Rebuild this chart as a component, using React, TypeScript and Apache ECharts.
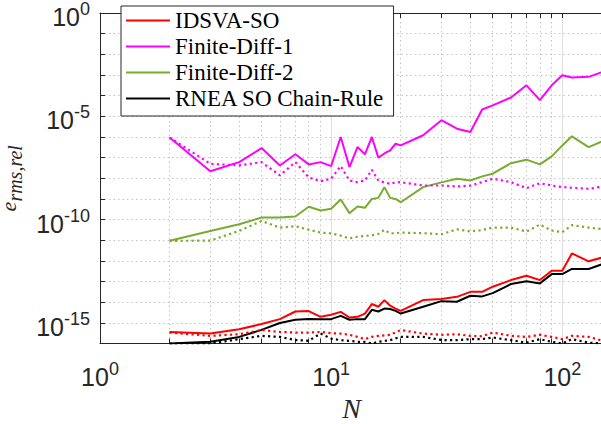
import { useEffect, useRef } from 'react';
import * as echarts from 'echarts';

// Number of bodies N (x values)
const N = [2, 3, 4, 5, 6, 7, 8, 9, 10, 11, 12, 13, 14, 15, 16, 17, 18, 19, 20, 25, 30, 35, 40, 45, 50, 60, 70, 80, 90, 100, 110, 130, 150];

// log10 of e_rms,rel — solid lines
const idsvaSoLog10 = [-15.44, -15.52, -15.31, -15.06, -14.82, -14.45, -14.43, -14.71, -14.61, -14.47, -14.74, -14.71, -14.55, -14.09, -14.22, -13.9, -14.17, -14.31, -14.42, -13.9, -13.85, -13.74, -13.5, -13.5, -13.25, -12.93, -12.72, -12.93, -12.48, -12.48, -11.64, -12.02, -11.83];
const finiteDiff1Log10 = [-6.03, -7.66, -7.22, -6.54, -7.38, -6.84, -7.33, -7.22, -7.41, -6.0, -7.46, -6.49, -6.84, -6.0, -7.0, -6.8, -6.65, -6.33, -6.41, -5.92, -5.19, -5.6, -5.76, -4.67, -4.47, -4.09, -3.5, -4.22, -3.5, -3.01, -3.12, -3.09, -2.85];
const finiteDiff2Log10 = [-11.03, -10.55, -10.23, -9.9, -9.9, -9.85, -9.38, -9.56, -9.48, -9.03, -9.69, -9.37, -9.43, -9.0, -8.95, -8.43, -8.95, -9.0, -9.16, -8.43, -8.2, -8.02, -8.11, -7.91, -7.78, -7.27, -7.1, -7.33, -6.94, -6.41, -5.97, -6.49, -6.2];
const rneaSoLog10 = [-16.0, -15.92, -15.68, -15.34, -15.01, -14.85, -14.81, -14.82, -14.82, -14.66, -14.85, -14.82, -14.82, -14.37, -14.45, -14.31, -14.33, -14.42, -14.55, -14.22, -13.95, -13.98, -13.69, -13.72, -13.56, -13.12, -12.99, -13.09, -12.64, -12.64, -12.39, -12.39, -12.15];

// log10 of e_rms,rel — dotted companion lines
const idsvaSoDotLog10 = [-15.47, -15.63, -15.55, -15.35, -15.44, -15.47, -15.47, -15.44, -15.5, -15.52, -15.58, -15.68, -15.79, -15.68, -15.63, -15.61, -15.58, -15.46, -15.35, -15.52, -15.58, -15.55, -15.63, -15.65, -15.47, -15.63, -15.68, -15.58, -15.68, -15.79, -15.63, -15.68, -15.87];
const finiteDiff1DotLog10 = [-6.03, -7.3, -7.38, -7.22, -7.86, -7.22, -7.96, -8.14, -8.02, -7.41, -8.11, -8.19, -8.11, -7.59, -8.11, -8.2, -8.27, -8.2, -8.19, -8.35, -8.35, -8.4, -8.36, -8.19, -8.02, -8.19, -8.48, -8.24, -8.35, -8.43, -8.46, -8.51, -8.4];
const finiteDiff2DotLog10 = [-11.03, -11.02, -10.55, -10.07, -10.39, -10.32, -10.49, -10.63, -10.67, -10.78, -10.91, -10.83, -10.79, -10.76, -10.7, -10.5, -10.67, -10.66, -10.63, -10.66, -10.71, -10.47, -10.58, -10.51, -10.39, -10.39, -10.58, -10.24, -10.53, -10.61, -10.27, -10.39, -10.46];
const rneaSoDotLog10 = [-16.0, -16.0, -15.79, -15.63, -15.68, -15.83, -15.87, -15.52, -15.76, -15.84, -15.87, -15.92, -15.92, -16.0, -15.92, -15.87, -15.84, -15.75, -15.68, -15.68, -15.83, -15.84, -15.79, -15.79, -15.71, -15.84, -15.96, -15.79, -15.92, -16.0, -15.79, -15.96, -16.0];

const seriesNames = ['IDSVA-SO', 'Finite-Diff-1', 'Finite-Diff-2', 'RNEA SO Chain-Rule'];
const seriesColors = ['#ff0000', '#ff00ff', '#77ac30', '#000000'];

// tick labels (exponents of 10)
const xLabelExponents = [0, 1, 2];
const yLabelExponents = [-15, -10, -5, 0];
const yMajorGridExponents = [-15, -10, -5];

const AXIS_COLOR = '#262626';

const toPairs = (ys: number[]) => N.map((n, i) => [n, Math.pow(10, ys[i])]);

const expLabel = (v: number, allowed: number[]) => {
  const l = Math.log10(v);
  const e = Math.round(l);
  if (Math.abs(l - e) > 1e-6 || !allowed.includes(e)) return '';
  return `{b|10}{s|${e}}`;
};

const labelRich = {
  b: { fontSize: 25, fontFamily: 'Liberation Sans', color: AXIS_COLOR, padding: [8, 0, 0, 0] },
  s: { fontSize: 18, fontFamily: 'Liberation Sans', color: AXIS_COLOR, padding: [0, 0, 8, 0] },
};

export default function App() {
  const ref = useRef<HTMLDivElement>(null);
  useEffect(() => {
    if (!ref.current) return;
    const chart = echarts.init(ref.current, undefined, { renderer: 'svg' });
    const solid = [idsvaSoLog10, finiteDiff1Log10, finiteDiff2Log10, rneaSoLog10];
    const dotted = [idsvaSoDotLog10, finiteDiff1DotLog10, finiteDiff2DotLog10, rneaSoDotLog10];
    const series: any[] = [];
    solid.forEach((d, i) => {
      const s: any = {
        name: seriesNames[i],
        type: 'line',
        data: toPairs(d),
        symbol: 'none',
        z: 3,
        lineStyle: { color: seriesColors[i], width: 2 },
        itemStyle: { color: seriesColors[i] },
        emphasis: { disabled: true },
      };
      if (i === 0) {
        s.markLine = {
          silent: true,
          symbol: 'none',
          z: 1,
          label: { show: false },
          emphasis: { disabled: true },
          lineStyle: { color: '#dedede', type: 'solid', width: 1 },
          data: yMajorGridExponents.map((e) => ({ yAxis: Math.pow(10, e) })),
        };
      }
      series.push(s);
    });
    dotted.forEach((d, i) => {
      series.push({
        name: seriesNames[i] + ' (dotted)',
        type: 'line',
        data: toPairs(d),
        symbol: 'none',
        z: 3,
        lineStyle: { color: seriesColors[i], width: 2.2, type: [2.2, 3.3] },
        itemStyle: { color: seriesColors[i] },
        emphasis: { disabled: true },
      });
    });

    const xCommon: any = {
      type: 'log',
      logBase: 10,
      min: 1,
      max: 150,
      interval: 1,
      axisLine: { show: true, lineStyle: { color: AXIS_COLOR, width: 1 } },
      axisTick: { show: true, inside: true, length: 5, lineStyle: { color: AXIS_COLOR } },
      minorTick: { show: true, splitNumber: 9, length: 5, lineStyle: { color: AXIS_COLOR } },
    };

    chart.setOption({
      animation: false,
      grid: { left: 100, top: 13, right: -2, bottom: 80.5, containLabel: false, outerBoundsMode: 'none' },
      legend: {
        data: seriesNames,
        orient: 'vertical',
        left: 121,
        top: 6,
        icon: 'rect',
        backgroundColor: '#ffffff',
        borderColor: AXIS_COLOR,
        borderWidth: 1,
        borderRadius: 0,
        padding: [3, 9, 6, 5],
        itemGap: 3,
        itemWidth: 44,
        itemHeight: 2,
        selectedMode: false,
        textStyle: { fontFamily: 'Liberation Serif', fontSize: 23, color: '#000', lineHeight: 23 },
        z: 10,
      },
      xAxis: [
        {
          ...xCommon,
          position: 'bottom',
          name: 'N',
          nameLocation: 'middle',
          nameGap: 49,
          nameTextStyle: { fontFamily: 'Liberation Serif', fontStyle: 'italic', fontSize: 28, color: AXIS_COLOR },
          axisLabel: {
            margin: 13,
            formatter: (v: number) => expLabel(v, xLabelExponents),
            rich: labelRich,
          },
          splitLine: { show: true, lineStyle: { color: '#dedede', width: 1, type: 'solid' } },
          minorSplitLine: { show: true, lineStyle: { color: '#c4c4c4', width: 1, type: [1.5, 3] } },
        },
        {
          ...xCommon,
          position: 'top',
          axisLabel: { show: false },
          splitLine: { show: false },
          minorSplitLine: { show: false },
        },
      ],
      yAxis: [
        {
          type: 'log',
          logBase: 10,
          min: 1e-16,
          max: 1,
          interval: 1,
          position: 'left',
          name: '{e|e}{sub|rms,rel}',
          nameLocation: 'middle',
          nameGap: 66,
          nameRotate: 90,
          nameTextStyle: {
            rich: {
              e: { fontFamily: 'Liberation Serif', fontStyle: 'italic', fontSize: 22, color: AXIS_COLOR },
              sub: { fontFamily: 'Liberation Serif', fontStyle: 'italic', fontSize: 20, color: AXIS_COLOR, padding: [14, 0, 0, 0] },
            },
          },
          axisLine: { show: true, lineStyle: { color: AXIS_COLOR, width: 1 } },
          axisTick: { show: true, inside: true, length: 5, lineStyle: { color: AXIS_COLOR } },
          axisLabel: {
            margin: 10,
            formatter: (v: number) => expLabel(v, yLabelExponents),
            rich: labelRich,
          },
          splitLine: { show: true, lineStyle: { color: '#c4c4c4', width: 1, type: [1.5, 3] } },
        },
      ],
      series,
    });
    return () => chart.dispose();
  }, []);
  return <div ref={ref} style={{ position: 'absolute', left: 0, top: 0, width: 601, height: 424 }} />;
}
